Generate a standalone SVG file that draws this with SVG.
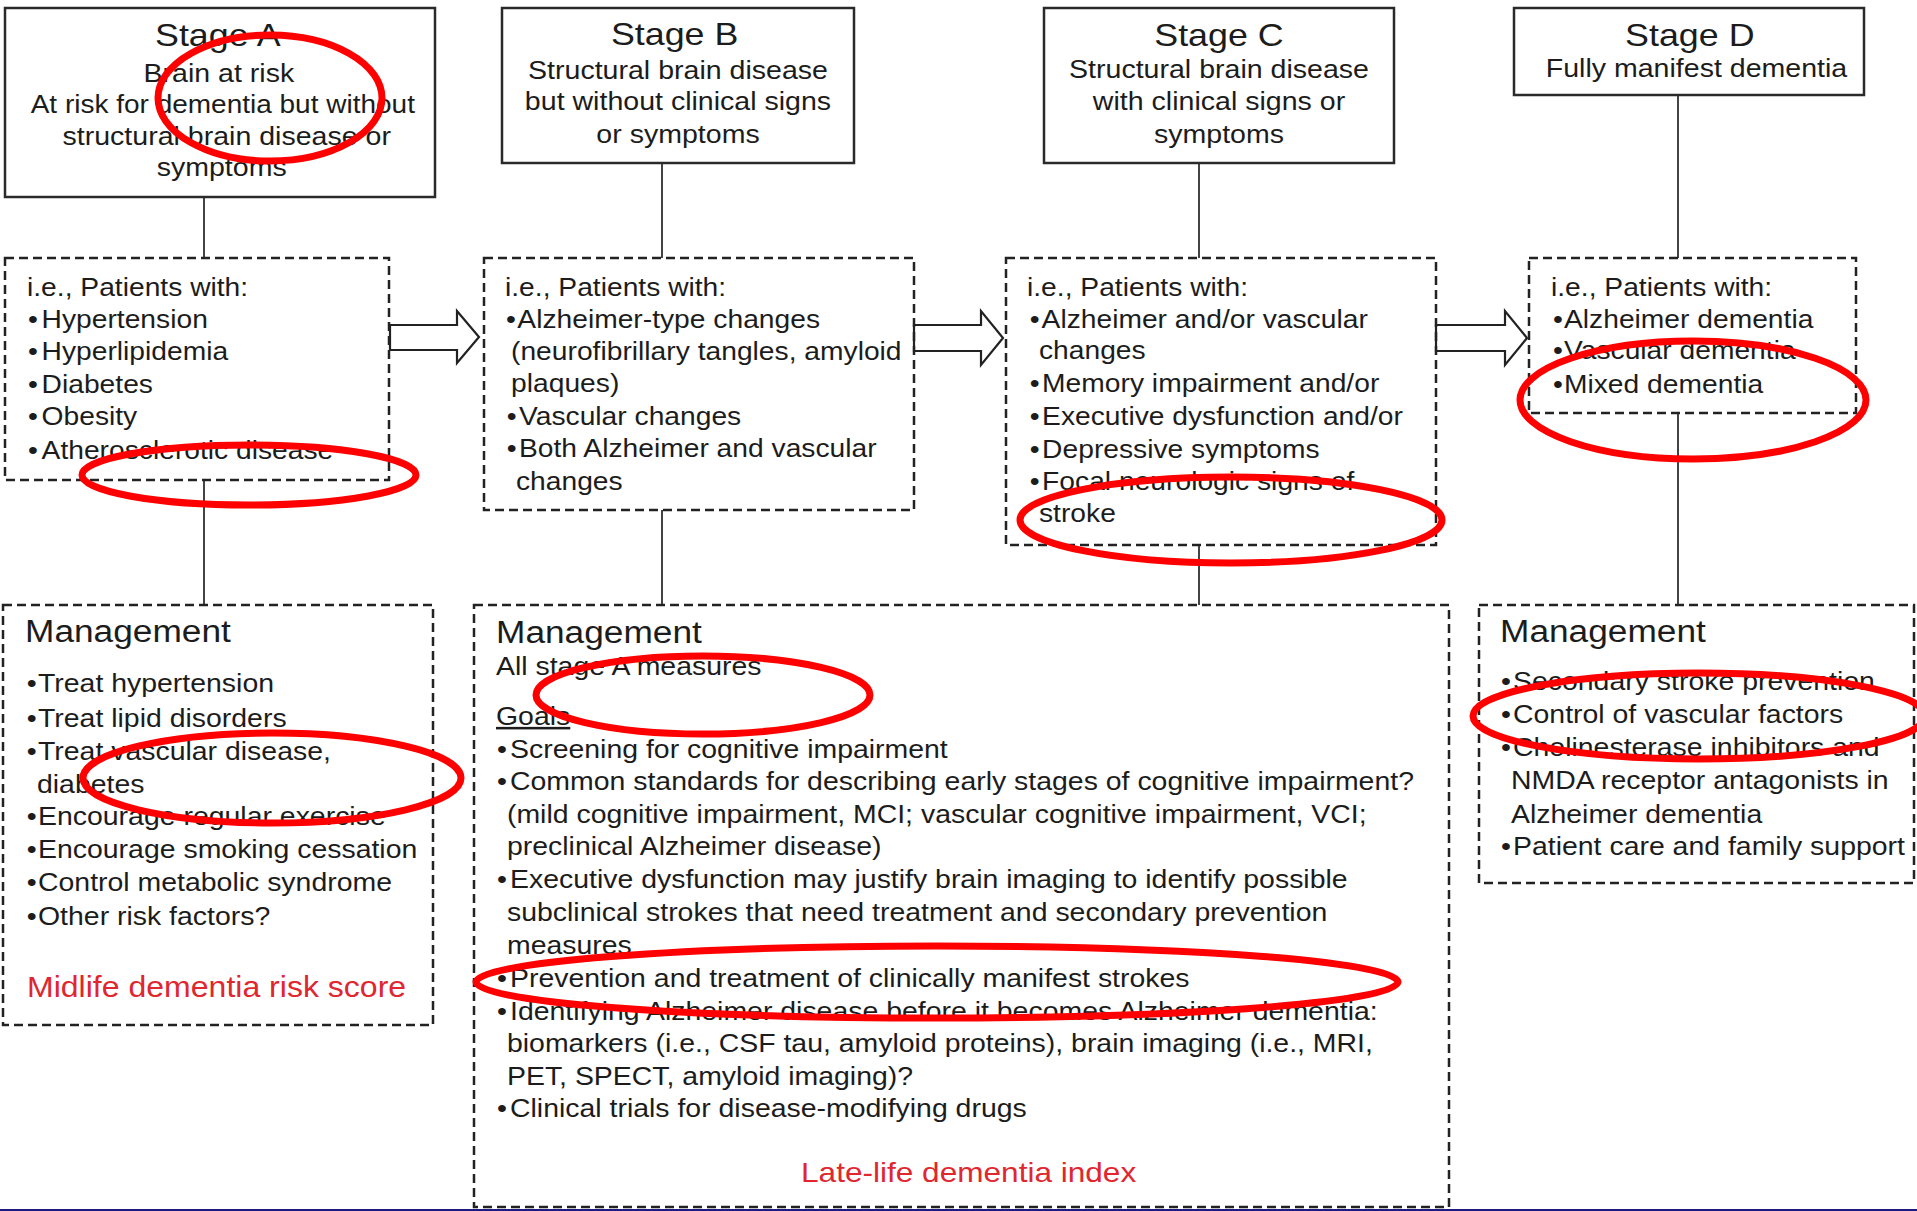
<svg xmlns="http://www.w3.org/2000/svg" width="1917" height="1211" viewBox="0 0 1917 1211">
<style>
text{font-family:"Liberation Sans",Arial,sans-serif;fill:#1c1c1c}
.ttl{font-size:32px}
.sub{font-size:25.5px}
.lst{font-size:25.2px}
.mh{font-size:31.5px}
.ml{font-size:25.4px}
.red{fill:#e0262e;font-size:28.2px}
.solid{fill:#fff;stroke:#2a2a2a;stroke-width:2.5}
.dash{fill:none;stroke:#222;stroke-width:2.5;stroke-dasharray:9 5}
.ln{stroke:#444;stroke-width:2;fill:none}
.arr{fill:#fff;stroke:#222;stroke-width:2.2;stroke-linejoin:miter}
.ann{fill:none;stroke:#f00;stroke-width:7}
</style>
<rect width="1917" height="1211" fill="#fff"/>

<g id="connectors">
<line class="ln" x1="204" y1="197" x2="204" y2="258"/>
<line class="ln" x1="204" y1="480" x2="204" y2="605"/>
<line class="ln" x1="662" y1="163" x2="662" y2="258"/>
<line class="ln" x1="662" y1="510" x2="662" y2="605"/>
<line class="ln" x1="1199" y1="163" x2="1199" y2="258"/>
<line class="ln" x1="1199" y1="545" x2="1199" y2="605"/>
<line class="ln" x1="1678" y1="95" x2="1678" y2="258"/>
<line class="ln" x1="1678" y1="413" x2="1678" y2="605"/>
<polygon class="arr" points="390,325 457,325 457,311 479,337 457,363 457,350 390,350"/>
<polygon class="arr" points="914,325 981,325 981,311 1003,338 981,365 981,351 914,351"/>
<polygon class="arr" points="1436,325 1505,325 1505,311 1527,338 1505,365 1505,351 1436,351"/>
</g>

<g id="stageA">
<rect class="solid" x="5" y="8" width="430" height="189"/>
<g transform="translate(220,0) scale(1.12,1)" text-anchor="middle">
<text class="ttl" x="-2" y="46">Stage A</text>
<text class="sub" x="-1" y="82">Brain at risk</text>
<text class="sub" x="2.5" y="113" style="font-size:25px">At risk for dementia but without</text>
<text class="sub" x="6" y="145">structural brain disease or</text>
<text class="sub" x="1.5" y="176">symptoms</text>
</g>
</g>

<g id="stageB">
<rect class="solid" x="502" y="8" width="352" height="155"/>
<g transform="translate(678,0) scale(1.12,1)" text-anchor="middle">
<text class="ttl" x="-3" y="45">Stage B</text>
<text class="sub" x="0" y="79">Structural brain disease</text>
<text class="sub" x="0" y="110">but without clinical signs</text>
<text class="sub" x="0" y="143">or symptoms</text>
</g>
</g>

<g id="stageC">
<rect class="solid" x="1044" y="8" width="350" height="155"/>
<g transform="translate(1219,0) scale(1.12,1)" text-anchor="middle">
<text class="ttl" x="0" y="46">Stage C</text>
<text class="sub" x="0" y="78">Structural brain disease</text>
<text class="sub" x="0" y="110">with clinical signs or</text>
<text class="sub" x="0" y="143">symptoms</text>
</g>
</g>

<g id="stageD">
<rect class="solid" x="1514" y="8" width="350" height="87"/>
<g transform="translate(1692,0) scale(1.12,1)" text-anchor="middle">
<text class="ttl" x="-2" y="46">Stage D</text>
<text class="sub" x="4" y="77">Fully manifest dementia</text>
</g>
</g>

<g id="patientsA">
<rect class="dash" x="5" y="258" width="384" height="222"/>
<g transform="translate(27,0) scale(1.12,1)">
<text class="lst" x="0" y="296">i.e., Patients with:</text>
<text class="lst" y="328"><tspan x="1">•</tspan><tspan x="13">Hypertension</tspan></text>
<text class="lst" y="360"><tspan x="1">•</tspan><tspan x="13">Hyperlipidemia</tspan></text>
<text class="lst" y="393"><tspan x="1">•</tspan><tspan x="13">Diabetes</tspan></text>
<text class="lst" y="425"><tspan x="1">•</tspan><tspan x="13">Obesity</tspan></text>
<text class="lst" y="459"><tspan x="1">•</tspan><tspan x="13">Atherosclerotic disease</tspan></text>
</g>
</g>

<g id="patientsB">
<rect class="dash" x="484" y="258" width="430" height="252"/>
<g transform="translate(505,0) scale(1.12,1)">
<text class="lst" x="0" y="296">i.e., Patients with:</text>
<text class="lst" y="328"><tspan x="1">•</tspan><tspan x="11">Alzheimer-type changes</tspan></text>
<text class="lst" x="5.4" y="360">(neurofibrillary tangles, amyloid</text>
<text class="lst" x="5.4" y="392">plaques)</text>
<text class="lst" y="425"><tspan x="1.5">•</tspan><tspan x="12.5">Vascular changes</tspan></text>
<text class="lst" y="457"><tspan x="1.5">•</tspan><tspan x="12.5">Both Alzheimer and vascular</tspan></text>
<text class="lst" x="9.8" y="490">changes</text>
</g>
</g>

<g id="patientsC">
<rect class="dash" x="1006" y="258" width="430" height="287"/>
<g transform="translate(1027,0) scale(1.12,1)">
<text class="lst" x="0" y="296">i.e., Patients with:</text>
<text class="lst" y="328"><tspan x="2.5">•</tspan><tspan x="13">Alzheimer and/or vascular</tspan></text>
<text class="lst" x="10.7" y="359">changes</text>
<text class="lst" y="392"><tspan x="2.5">•</tspan><tspan x="13.5">Memory impairment and/or</tspan></text>
<text class="lst" y="425"><tspan x="2.5">•</tspan><tspan x="13.5">Executive dysfunction and/or</tspan></text>
<text class="lst" y="458"><tspan x="2.5">•</tspan><tspan x="13.5">Depressive symptoms</tspan></text>
<text class="lst" y="490"><tspan x="2.5">•</tspan><tspan x="13.5">Focal neurologic signs of</tspan></text>
<text class="lst" x="10.7" y="522">stroke</text>
</g>
</g>

<g id="patientsD">
<rect class="dash" x="1529" y="258" width="327" height="155"/>
<g transform="translate(1551,0) scale(1.12,1)">
<text class="lst" x="0" y="296">i.e., Patients with:</text>
<text class="lst" y="328"><tspan x="1.8">•</tspan><tspan x="11.6">Alzheimer dementia</tspan></text>
<text class="lst" y="359"><tspan x="1.8">•</tspan><tspan x="11.6">Vascular dementia</tspan></text>
<text class="lst" y="393"><tspan x="1.8">•</tspan><tspan x="11.6">Mixed dementia</tspan></text>
</g>
</g>

<g id="managementA">
<rect class="dash" x="3" y="605" width="430" height="420"/>
<g transform="translate(25,0) scale(1.12,1)">
<text class="mh" x="0" y="642">Management</text>
<text class="ml" y="692"><tspan x="1.5">•</tspan><tspan x="11.6">Treat hypertension</tspan></text>
<text class="ml" y="727"><tspan x="1.5">•</tspan><tspan x="11.6">Treat lipid disorders</tspan></text>
<text class="ml" y="760"><tspan x="1.5">•</tspan><tspan x="11.6">Treat vascular disease,</tspan></text>
<text class="ml" x="10.7" y="793">diabetes</text>
<text class="ml" y="825"><tspan x="1.5">•</tspan><tspan x="11.6">Encourage regular exercise</tspan></text>
<text class="ml" y="858"><tspan x="1.5">•</tspan><tspan x="11.6">Encourage smoking cessation</tspan></text>
<text class="ml" y="891"><tspan x="1.5">•</tspan><tspan x="11.6">Control metabolic syndrome</tspan></text>
<text class="ml" y="925"><tspan x="1.5">•</tspan><tspan x="11.6">Other risk factors?</tspan></text>
<text class="red" x="1.8" y="997" style="font-size:28.6px">Midlife dementia risk score</text>
</g>
</g>

<g id="managementB">
<rect class="dash" x="474" y="605" width="975" height="602"/>
<g transform="translate(496,0) scale(1.12,1)">
<text class="mh" x="0" y="643">Management</text>
<text class="ml" x="0" y="675">All stage A measures</text>
<text class="ml" x="0" y="725" text-decoration="underline">Goals</text>
<text class="ml" y="758"><tspan x="0.9">•</tspan><tspan x="12.5">Screening for cognitive impairment</tspan></text>
<text class="ml" y="790"><tspan x="0.9">•</tspan><tspan x="12.5">Common standards for describing early stages of cognitive impairment?</tspan></text>
<text class="ml" x="9.8" y="823">(mild cognitive impairment, MCI; vascular cognitive impairment, VCI;</text>
<text class="ml" x="9.8" y="855">preclinical Alzheimer  disease)</text>
<text class="ml" y="888"><tspan x="0.9">•</tspan><tspan x="12.5">Executive dysfunction may justify brain imaging to identify possible</tspan></text>
<text class="ml" x="9.8" y="921">subclinical strokes that need treatment and secondary prevention</text>
<text class="ml" x="9.8" y="954">measures</text>
<text class="ml" y="987"><tspan x="0.9">•</tspan><tspan x="12.5">Prevention and treatment of clinically manifest strokes</tspan></text>
<text class="ml" y="1020"><tspan x="0.9">•</tspan><tspan x="12.5">Identifying Alzheimer disease before it becomes Alzheimer dementia:</tspan></text>
<text class="ml" x="9.8" y="1052">biomarkers (i.e., CSF tau, amyloid proteins), brain imaging (i.e., MRI,</text>
<text class="ml" x="9.8" y="1085">PET, SPECT, amyloid imaging)?</text>
<text class="ml" y="1117"><tspan x="0.9">•</tspan><tspan x="12.5">Clinical trials for disease-modifying drugs</tspan></text>
<text class="red" x="422" y="1182" text-anchor="middle">Late-life dementia index</text>
</g>
</g>

<g id="managementD">
<rect class="dash" x="1479" y="605" width="435" height="278"/>
<g transform="translate(1500,0) scale(1.12,1)">
<text class="mh" x="0" y="642">Management</text>
<text class="ml" y="690"><tspan x="0.9">•</tspan><tspan x="11.6">Secondary stroke prevention</tspan></text>
<text class="ml" y="723"><tspan x="0.9">•</tspan><tspan x="11.6">Control of vascular factors</tspan></text>
<text class="ml" y="756"><tspan x="0.9">•</tspan><tspan x="11.6">Cholinesterase inhibitors and</tspan></text>
<text class="ml" x="9.8" y="789">NMDA receptor antagonists in</text>
<text class="ml" x="9.8" y="823">Alzheimer dementia</text>
<text class="ml" y="855"><tspan x="0.9">•</tspan><tspan x="11.6">Patient care and family support</tspan></text>
</g>
</g>

<g id="annotations">
<ellipse class="ann" cx="270" cy="98" rx="112" ry="63" stroke-width="10"/>
<ellipse class="ann" cx="249" cy="475" rx="167" ry="30"/>
<ellipse class="ann" cx="1231" cy="520" rx="211" ry="43"/>
<ellipse class="ann" cx="1693" cy="400" rx="173" ry="59"/>
<ellipse class="ann" cx="272" cy="778" rx="189" ry="45"/>
<ellipse class="ann" cx="703" cy="695" rx="167" ry="39"/>
<ellipse class="ann" cx="937" cy="982" rx="461" ry="36"/>
<ellipse class="ann" cx="1699" cy="716" rx="226" ry="43"/>
</g>

<rect x="0" y="1209" width="1917" height="2" fill="#1c1c80"/>
</svg>
